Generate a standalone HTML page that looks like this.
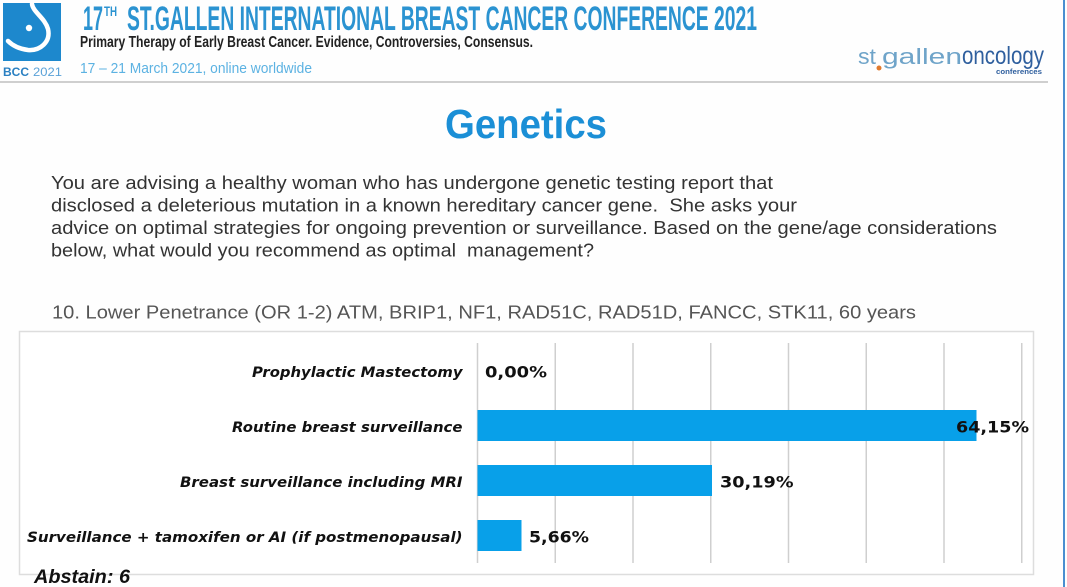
<!DOCTYPE html>
<html>
<head>
<meta charset="utf-8">
<style>
  html, body { margin:0; padding:0; background:#fefefe; }
  svg { display:block; }
</style>
</head>
<body>
<svg width="1067" height="587" viewBox="0 0 1067 587" xmlns="http://www.w3.org/2000/svg">
  <rect x="0" y="0" width="1067" height="587" fill="#fefefe"/>

  <!-- Logo -->
  <rect x="3" y="3" width="58" height="58" fill="#1d88cd"/>
  <path d="M32 4 C 33 12, 45 18, 48 29 C 51 42, 40 51, 28 50 C 20 49, 13 46, 8 41" fill="none" stroke="#ffffff" stroke-width="4.5" stroke-linecap="round"/>
  <circle cx="29" cy="28" r="3.2" fill="#ffffff"/>
  <text x="3" y="76" font-family="Liberation Sans, sans-serif" font-weight="bold" font-size="12" fill="#2a80c2" textLength="26" lengthAdjust="spacingAndGlyphs">BCC</text>
  <text x="33" y="76" font-family="Liberation Sans, sans-serif" font-size="12" fill="#5ba2d8" textLength="29" lengthAdjust="spacingAndGlyphs">2021</text>

  <!-- Title -->
  <text x="83" y="30" font-family="Liberation Sans, sans-serif" font-weight="bold" font-size="34" fill="#2b93d1" textLength="20" lengthAdjust="spacingAndGlyphs">17</text>
  <text x="104" y="16" font-family="Liberation Sans, sans-serif" font-weight="bold" font-size="14" fill="#2b93d1" textLength="13" lengthAdjust="spacingAndGlyphs">TH</text>
  <text x="127" y="30" font-family="Liberation Sans, sans-serif" font-weight="bold" font-size="34" fill="#2b93d1" textLength="630" lengthAdjust="spacingAndGlyphs">ST.GALLEN INTERNATIONAL BREAST CANCER CONFERENCE 2021</text>
  <text x="80" y="47" font-family="Liberation Sans, sans-serif" font-weight="bold" font-size="16" fill="#222" textLength="453" lengthAdjust="spacingAndGlyphs">Primary Therapy of Early Breast Cancer. Evidence, Controversies, Consensus.</text>
  <text x="80" y="73" font-family="Liberation Sans, sans-serif" font-size="15" fill="#5cb2e2" textLength="232" lengthAdjust="spacingAndGlyphs">17 – 21 March 2021, online worldwide</text>

  <!-- st.gallen oncology logo -->
  <text x="858" y="64" font-family="Liberation Sans, sans-serif" font-size="22" fill="#6fa4c9" textLength="18" lengthAdjust="spacingAndGlyphs">st</text>
  <circle cx="879" cy="68" r="2.5" fill="#e07a2e"/>
  <text x="882" y="64" font-family="Liberation Sans, sans-serif" font-size="22" fill="#6fa4c9" textLength="80" lengthAdjust="spacingAndGlyphs">gallen</text>
  <text x="962" y="64" font-family="Liberation Sans, sans-serif" font-size="25" fill="#2f5f9e" textLength="82" lengthAdjust="spacingAndGlyphs">oncology</text>
  <text x="996" y="74" font-family="Liberation Sans, sans-serif" font-weight="bold" font-size="7" fill="#2f5f9e" textLength="46" lengthAdjust="spacingAndGlyphs">conferences</text>

  <!-- header separator -->
  <rect x="0" y="81" width="1048" height="2" fill="#cfcfcf"/>
  <!-- right blue border -->
  <rect x="1063" y="0" width="2" height="587" fill="#4a8fd0"/>

  <!-- Genetics -->
  <text x="445" y="138" font-family="Liberation Sans, sans-serif" font-weight="bold" font-size="41" fill="#1b8fd6" textLength="162" lengthAdjust="spacingAndGlyphs">Genetics</text>

  <!-- Paragraph -->
  <g font-family="Liberation Sans, sans-serif" font-size="18.5" fill="#333">
    <text x="51" y="189" textLength="722" lengthAdjust="spacingAndGlyphs">You are advising a healthy woman who has undergone genetic testing report that</text>
    <text x="51" y="211.5" textLength="746" lengthAdjust="spacingAndGlyphs" xml:space="preserve">disclosed a deleterious mutation in a known hereditary cancer gene. &#160;She asks your</text>
    <text x="51" y="234" textLength="946" lengthAdjust="spacingAndGlyphs">advice on optimal strategies for ongoing prevention or surveillance. Based on the gene/age considerations</text>
    <text x="51" y="256.5" textLength="543" lengthAdjust="spacingAndGlyphs" xml:space="preserve">below, what would you recommend as optimal &#160;management?</text>
  </g>
  <text x="52" y="318.5" font-family="Liberation Sans, sans-serif" font-size="18" fill="#555" textLength="864" lengthAdjust="spacingAndGlyphs">10. Lower Penetrance (OR 1-2) ATM, BRIP1, NF1, RAD51C, RAD51D, FANCC, STK11, 60 years</text>

  <!-- Chart box -->
  <rect x="19.5" y="331.5" width="1014" height="243" fill="#ffffff" stroke="#dddddd" stroke-width="1.5"/>

  <!-- gridlines -->
  <g stroke="#cfcfcf" stroke-width="1.5">
    <line x1="477.5" y1="343" x2="477.5" y2="563"/>
    <line x1="555.25" y1="343" x2="555.25" y2="563"/>
    <line x1="633" y1="343" x2="633" y2="563"/>
    <line x1="710.75" y1="343" x2="710.75" y2="563"/>
    <line x1="788.5" y1="343" x2="788.5" y2="563"/>
    <line x1="866.25" y1="343" x2="866.25" y2="563"/>
    <line x1="944" y1="343" x2="944" y2="563"/>
    <line x1="1021.75" y1="343" x2="1021.75" y2="563"/>
  </g>

  <!-- bars -->
  <g fill="#08a0e9">
    <rect x="477.5" y="410" width="499" height="31"/>
    <rect x="477.5" y="465" width="234.5" height="31"/>
    <rect x="477.5" y="520" width="44" height="31"/>
  </g>

  <!-- category labels -->
  <g font-family="DejaVu Sans, Verdana, sans-serif" font-weight="bold" font-style="italic" font-size="14" fill="#111">
    <text x="252" y="377" textLength="210.5" lengthAdjust="spacingAndGlyphs">Prophylactic Mastectomy</text>
    <text x="232" y="432" textLength="230.5" lengthAdjust="spacingAndGlyphs">Routine breast surveillance</text>
    <text x="180" y="487" textLength="282.5" lengthAdjust="spacingAndGlyphs">Breast surveillance including MRI</text>
    <text x="27" y="542" textLength="435.5" lengthAdjust="spacingAndGlyphs">Surveillance + tamoxifen or AI (if postmenopausal)</text>
  </g>

  <!-- value labels -->
  <g font-family="DejaVu Sans, Verdana, sans-serif" font-weight="bold" font-size="16" fill="#111">
    <text x="485" y="377.5" textLength="62" lengthAdjust="spacingAndGlyphs">0,00%</text>
    <text x="956" y="432.5" textLength="73" lengthAdjust="spacingAndGlyphs">64,15%</text>
    <text x="720" y="487.5" textLength="73.5" lengthAdjust="spacingAndGlyphs">30,19%</text>
    <text x="529" y="542.5" textLength="60" lengthAdjust="spacingAndGlyphs">5,66%</text>
  </g>

  <!-- Abstain -->
  <text x="34" y="583" font-family="Liberation Sans, sans-serif" font-weight="bold" font-style="italic" font-size="19" fill="#111" textLength="96" lengthAdjust="spacingAndGlyphs">Abstain: 6</text>
</svg>
</body>
</html>
